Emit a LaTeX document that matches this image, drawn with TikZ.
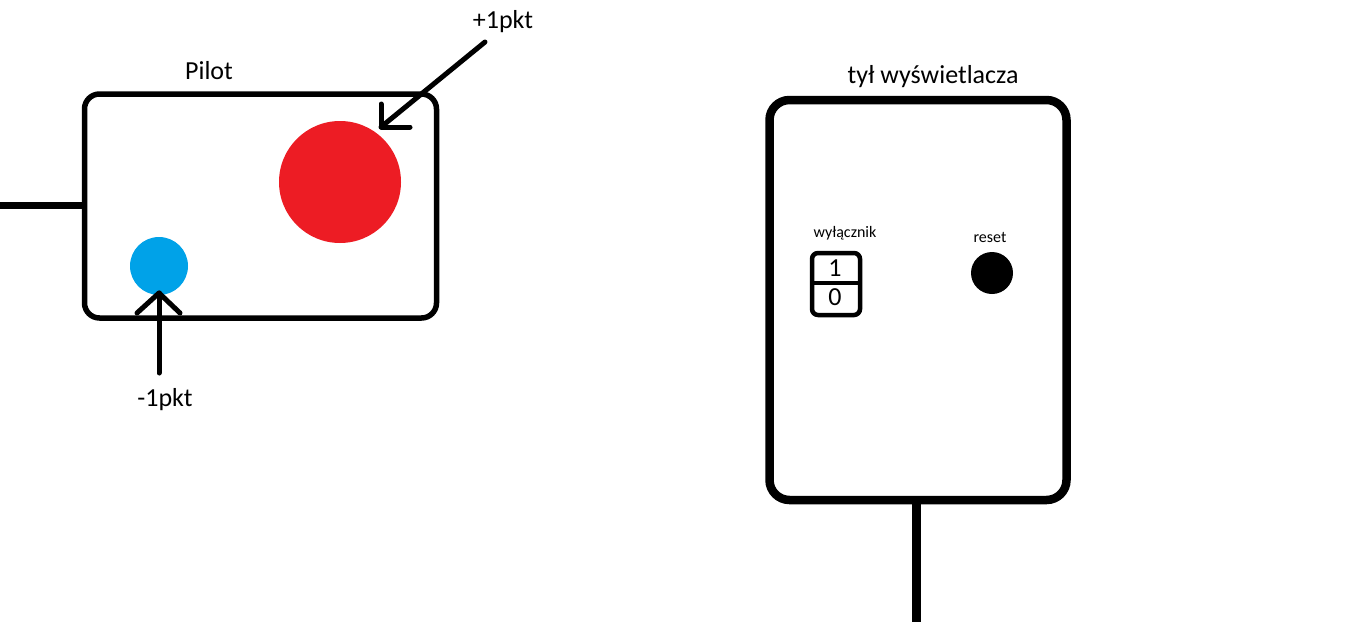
\documentclass[tikz,border=0pt]{standalone}
\usepackage{fontspec}
\setmainfont{Carlito}
\definecolor{pred}{HTML}{ED1C24}
\definecolor{pblue}{HTML}{00A2E8}
\begin{document}
\begin{tikzpicture}[x=1pt,y=-1pt,
  big/.style={font=\fontsize{26}{30}\selectfont, inner sep=0pt},
  small/.style={font=\fontsize{16}{19}\selectfont, inner sep=0pt},
  frame/.style={draw=black, line width=5.5pt, rounded corners=15pt, outer sep=0pt, inner sep=0pt},
  wire/.style={draw=black, line width=7pt},
  arr/.style={draw=black, line width=5pt}]
\useasboundingbox[fill=white] (0,0) rectangle (1356,624);
% Pilot
\node[frame, minimum width=352pt, minimum height=224pt, anchor=north west] (pilot) at (84.5,94) {};
\coordinate (lend) at (0,205);
\draw[wire] (lend) -- (lend -| pilot.west);
\node[circle, fill=pred, minimum size=122pt, inner sep=0pt] (red) at (340,182) {};
\node[circle, fill=pblue, minimum size=58pt, inner sep=0pt] (blue) at (159,266) {};
\node[big] (pilotlbl) at (209,71) {Pilot};
\node[big] (plus) at (503,22) {+1pkt};
\node[big] (minus) at (165,400) {-1pkt};
% +1 arrow
\coordinate (pa) at (485,42);
\coordinate (pt) at (381,127);
\draw[arr, line cap=round] (pa) -- (pt);
\draw[arr, line cap=round, line join=round] (381,104) -- (pt) -- (410,127);
% -1 arrow
\coordinate (ma) at (159,373);
\coordinate (mt) at (159,293);
\draw[arr, line cap=round] (ma) -- (mt);
\draw[arr, line cap=round, line join=round] (137,313) -- (mt) -- (180,313);
% Display
\node[frame, line width=8.5pt, rounded corners=20pt, minimum width=297pt, minimum height=400pt, anchor=north west] (disp) at (769.5,100) {};
\coordinate (dend) at (916,622);
\draw[wire, line width=9pt] (disp.south -| dend) -- (dend);
\node[big] (displbl) at (933,77) {tył wyświetlacza};
% switch
\node[draw=black, line width=4.5pt, rounded corners=6pt, minimum width=48pt, minimum height=62pt, anchor=north west, inner sep=0pt, outer sep=0pt] (sw) at (812,253) {};
\draw[black, line width=3.5pt] (sw.west) ++(0,-1) -- ([yshift=1pt]sw.east);
\node[big] (one) at (835,268) {1};
\node[big] (zero) at (835,297) {0};
\node[small] (swlbl) at (845,233) {wyłącznik};
\node[small] (rlbl) at (990,237) {reset};
\node[circle, fill=black, minimum size=42pt, inner sep=0pt] (reset) at (992,273) {};
\end{tikzpicture}
\end{document}
